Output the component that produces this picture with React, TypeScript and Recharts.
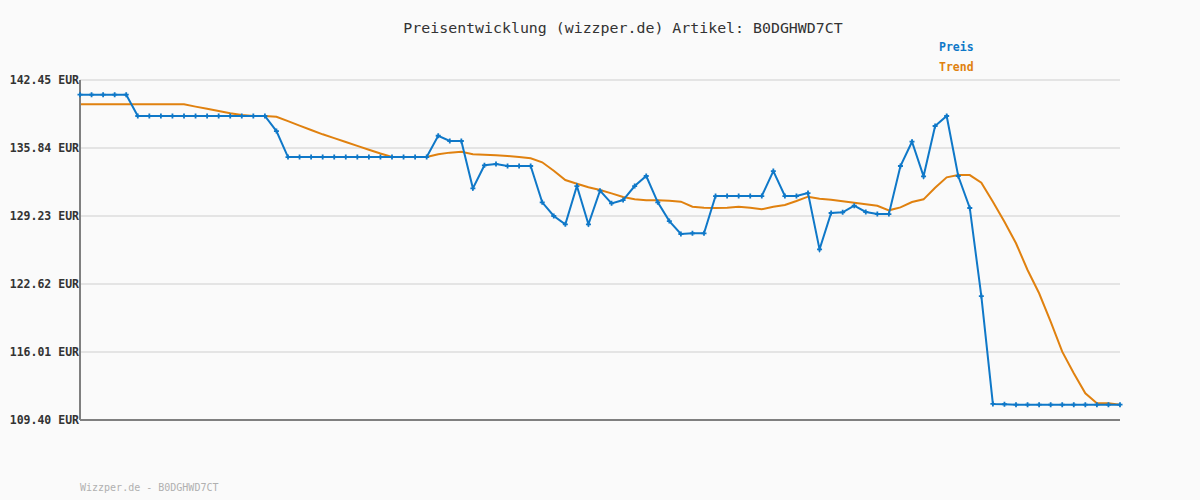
import React from "react";
import { LineChart, Line, XAxis, YAxis, CartesianGrid, ReferenceLine } from "recharts";

const TITLE = "Preisentwicklung (wizzper.de) Artikel: B0DGHWD7CT";
const FOOTER = "Wizzper.de - B0DGHWD7CT";
const SERIES_NAMES = ["Preis", "Trend"];
const Y_TICKS = [109.4, 116.01, 122.62, 129.23, 135.84, 142.45];

const PRICE = [
  141.02, 141.02, 141.02, 141.02, 141.02,
  138.95, 138.95, 138.95, 138.95, 138.95, 138.95, 138.95, 138.95, 138.95, 138.95, 138.95, 138.95,
  137.49,
  134.96, 134.96, 134.96, 134.96, 134.96, 134.96, 134.96, 134.96, 134.96, 134.96, 134.96, 134.96, 134.96,
  137.03, 136.52, 136.52, 131.92, 134.16, 134.28, 134.09, 134.09, 134.09, 130.56,
  129.23, 128.42, 132.14, 128.42, 131.69, 130.46, 130.78, 132.14, 133.12, 130.56,
  128.74, 127.48, 127.55, 127.55,
  131.17, 131.17, 131.17, 131.17, 131.17,
  133.6, 131.17, 131.17, 131.46, 125.99, 129.52, 129.59, 130.23, 129.62, 129.42, 129.42,
  134.09, 136.45, 133.09, 137.98, 138.95, 133.12, 130.01, 121.45, 110.96, 110.93,
  110.89, 110.89, 110.89, 110.89, 110.89, 110.89, 110.89, 110.89, 110.89, 110.89,
];

const TREND = [
  140.09, 140.09, 140.09, 140.09, 140.09, 140.09, 140.09, 140.09, 140.09, 140.09,
  139.86, 139.65, 139.43, 139.22, 139.05, 138.95, 138.95, 138.88, 138.45, 138.02,
  137.59, 137.17, 136.8, 136.42, 136.05, 135.67, 135.3, 134.96, 134.96, 134.96,
  134.96, 135.23, 135.39, 135.48, 135.23, 135.19, 135.13, 135.06, 134.96, 134.84,
  134.45, 133.63, 132.73, 132.37, 132.02, 131.76, 131.43, 131.08, 130.85, 130.75,
  130.75, 130.72, 130.62, 130.13, 130.04, 130.01, 130.04, 130.13, 130.04, 129.88,
  130.13, 130.3, 130.69, 131.11, 130.91, 130.81, 130.66, 130.52, 130.37, 130.23,
  129.78, 130.07, 130.59, 130.85, 131.98, 132.99, 133.21, 133.21, 132.47, 130.62,
  128.67, 126.58, 123.98, 121.72, 118.96, 116.04, 113.94, 111.99, 111.02, 111.02,
  110.89,
];

const BLUE = "#0f78c8";
const ORANGE = "#e0810f";
const FONT = '"DejaVu Sans Mono", "Liberation Mono", monospace';

const data = PRICE.map((p, i) => ({ idx: i, price: p, trend: TREND[i] }));

const CrossDot = (props: any) => {
  const { cx, cy } = props;
  if (cx == null || cy == null) return null;
  const s = 2.5;
  return (
    <path
      d={`M${cx - s},${cy}L${cx + s},${cy}M${cx},${cy - s}L${cx},${cy + s}`}
      stroke={BLUE}
      strokeWidth={1.8}
      fill="none"
    />
  );
};

const YTick = (props: any) => {
  const { x, y, payload } = props;
  return (
    <text
      x={x}
      y={y}
      dy="0.36em"
      textAnchor="end"
      fontFamily={FONT}
      fontSize={11.5}
      fontWeight="bold"
      fill="#333333"
    >
      {`${Number(payload.value).toFixed(2)} EUR`}
    </text>
  );
};

export default function App() {
  return (
    <div style={{ position: "relative", width: 1200, height: 500, background: "#fafafa", fontFamily: FONT }}>
      <style>{`body{margin:0;background:#fafafa}`}</style>
      <LineChart
        width={1200}
        height={500}
        data={data}
        margin={{ top: 80, right: 80, bottom: 79, left: 0 }}
      >
        <CartesianGrid horizontal vertical={false} stroke="#e4e4e4" strokeWidth={2} />
        <XAxis
          dataKey="idx"
          type="number"
          domain={[0, 90]}
          tick={false}
          tickLine={false}
          height={1}
          axisLine={false}
        />
        <YAxis
          type="number"
          domain={[109.4, 142.45]}
          ticks={Y_TICKS}
          interval={0}
          width={80}
          allowDataOverflow
          tickLine={false}
          tickSize={0}
          tickMargin={1}
          axisLine={{ stroke: "#7f7f7f", strokeWidth: 2 }}
          tick={<YTick />}
        />
        <ReferenceLine y={109.4} stroke="#7f7f7f" strokeWidth={2} />
        <Line
          type="linear"
          dataKey="trend"
          stroke={ORANGE}
          strokeWidth={2}
          dot={false}
          activeDot={false}
          isAnimationActive={false}
        />
        <Line
          type="linear"
          dataKey="price"
          stroke={BLUE}
          strokeWidth={2}
          dot={<CrossDot />}
          activeDot={false}
          isAnimationActive={false}
        />
      </LineChart>
      <svg
        width={1200}
        height={500}
        style={{ position: "absolute", left: 0, top: 0, pointerEvents: "none" }}
      >
        <text x={623} y={33} textAnchor="middle" fontFamily={FONT} fontSize={14.9} fill="#333333">
          {TITLE}
        </text>
        <text x={939} y={51} fontFamily={FONT} fontSize={11.5} fontWeight="bold" fill={BLUE}>
          {SERIES_NAMES[0]}
        </text>
        <text x={939} y={71} fontFamily={FONT} fontSize={11.5} fontWeight="bold" fill={ORANGE}>
          {SERIES_NAMES[1]}
        </text>
        <text x={80} y={491} fontFamily={FONT} fontSize={10} fill="#b0b0b0">
          {FOOTER}
        </text>
      </svg>
    </div>
  );
}
